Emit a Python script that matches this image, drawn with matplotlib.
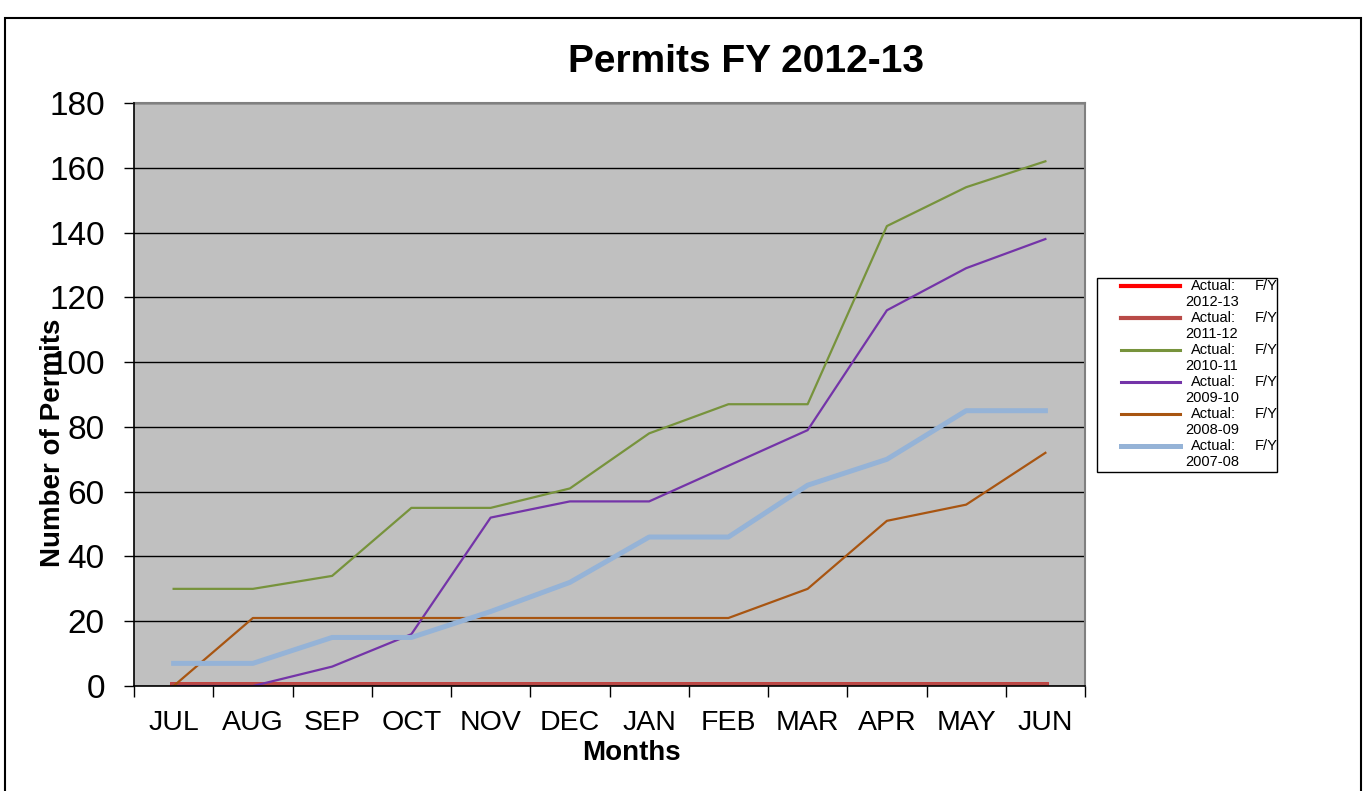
import matplotlib.pyplot as plt
from matplotlib.patches import Rectangle
from matplotlib.lines import Line2D

plt.rcParams['font.family'] = ['Liberation Sans', 'DejaVu Sans']

months = ["JUL", "AUG", "SEP", "OCT", "NOV", "DEC", "JAN", "FEB", "MAR", "APR", "MAY", "JUN"]
fy_labels = ["2012-13", "2011-12", "2010-11", "2009-10", "2008-09", "2007-08"]

fy2012_13 = [0, 0, 0, 0, 0, 0, 0, 0, 0, 0, 0, 0]
fy2011_12 = [0, 0, 0, 0, 0, 0, 0, 0, 0, 0, 0, 0]
fy2010_11 = [30, 30, 34, 55, 55, 61, 78, 87, 87, 142, 154, 162]
fy2009_10 = [0, 0, 6, 16, 52, 57, 57, 68, 79, 116, 129, 138]
fy2008_09 = [0, 21, 21, 21, 21, 21, 21, 21, 30, 51, 56, 72]
fy2007_08 = [7, 7, 15, 15, 23, 32, 46, 46, 62, 70, 85, 85]

series = [fy2012_13, fy2011_12, fy2010_11, fy2009_10, fy2008_09, fy2007_08]
colors = ["#FF0000", "#B84A47", "#77933C", "#7434A8", "#A85511", "#95B3D7"]
widths = [5.5, 5.5, 1.6, 1.6, 1.6, 3.6]
legend_widths = [3.0, 3.0, 2.2, 2.2, 2.2, 3.6]
zorders = [2.5, 2.6, 3, 3, 3, 3]

fig = plt.figure(figsize=(13.66, 7.91), dpi=100)
ax = fig.add_axes([0.0981, 0.1327, 0.6962, 0.7371])
ax.set_facecolor("#C0C0C0")

x = list(range(len(months)))
for vals, c, w, z in zip(series, colors, widths, zorders):
    ax.plot(x, vals, color=c, lw=w, zorder=z)

ax.set_xlim(-0.5, 11.5)
ax.set_ylim(0, 180)
ax.set_yticks(range(0, 181, 20))
ax.yaxis.grid(True, color="black", lw=1)
ax.set_axisbelow(True)

# category boundaries get tick marks, labels sit between them
ax.set_xticks([i - 0.5 for i in range(13)])
ax.set_xticklabels([])
ax.set_xticks(x, minor=True)
ax.set_xticklabels(months, minor=True)
ax.tick_params(axis="x", which="major", direction="out", length=8, width=1)
ax.tick_params(axis="x", which="minor", length=0, pad=17, labelsize=20.5)
ax.tick_params(axis="y", direction="out", length=7, width=1, pad=14, labelsize=24)

for s in ["top", "right"]:
    ax.spines[s].set_color("#808080")
    ax.spines[s].set_linewidth(1.5)
for s in ["left", "bottom"]:
    ax.spines[s].set_color("black")
    ax.spines[s].set_linewidth(1.2)
    ax.spines[s].set_zorder(4)

ax.set_xlabel("Months", fontsize=20, fontweight="bold")
ax.set_ylabel("Number of Permits", fontsize=20, fontweight="bold")
ax.xaxis.set_label_coords(0.5226, -0.0925)
ax.yaxis.set_label_coords(-0.0715, 0.417)

fig.text(0.546, 0.922, "Permits FY 2012-13", ha="center", va="center",
         fontsize=28, fontweight="bold")

# legend box drawn by hand to keep the wrapped labels like the original
fig.patches.append(Rectangle((0.803, 0.4033), 0.132, 0.2452, transform=fig.transFigure,
                             facecolor="white", edgecolor="black", lw=1))
for i, (lab, c, w) in enumerate(zip(fy_labels, colors, legend_widths)):
    yy = 1 - (286 + 32 * i) / 791
    fig.lines.append(Line2D([0.8206, 0.8638], [yy, yy], transform=fig.transFigure,
                            color=c, lw=w))
    fig.text(0.8718, yy, "Actual:", fontsize=10.5, va="center")
    fig.text(0.9185, yy, "F/Y", fontsize=10.5, va="center")
    fig.text(0.8675, yy - 0.0205, lab, fontsize=10.5, va="center")

# outer frame
fig.patches.append(Rectangle((0.004, -0.01), 0.992, 0.987, transform=fig.transFigure,
                             facecolor="none", edgecolor="black", lw=1.5))

fig.savefig("out.png", dpi=100)
